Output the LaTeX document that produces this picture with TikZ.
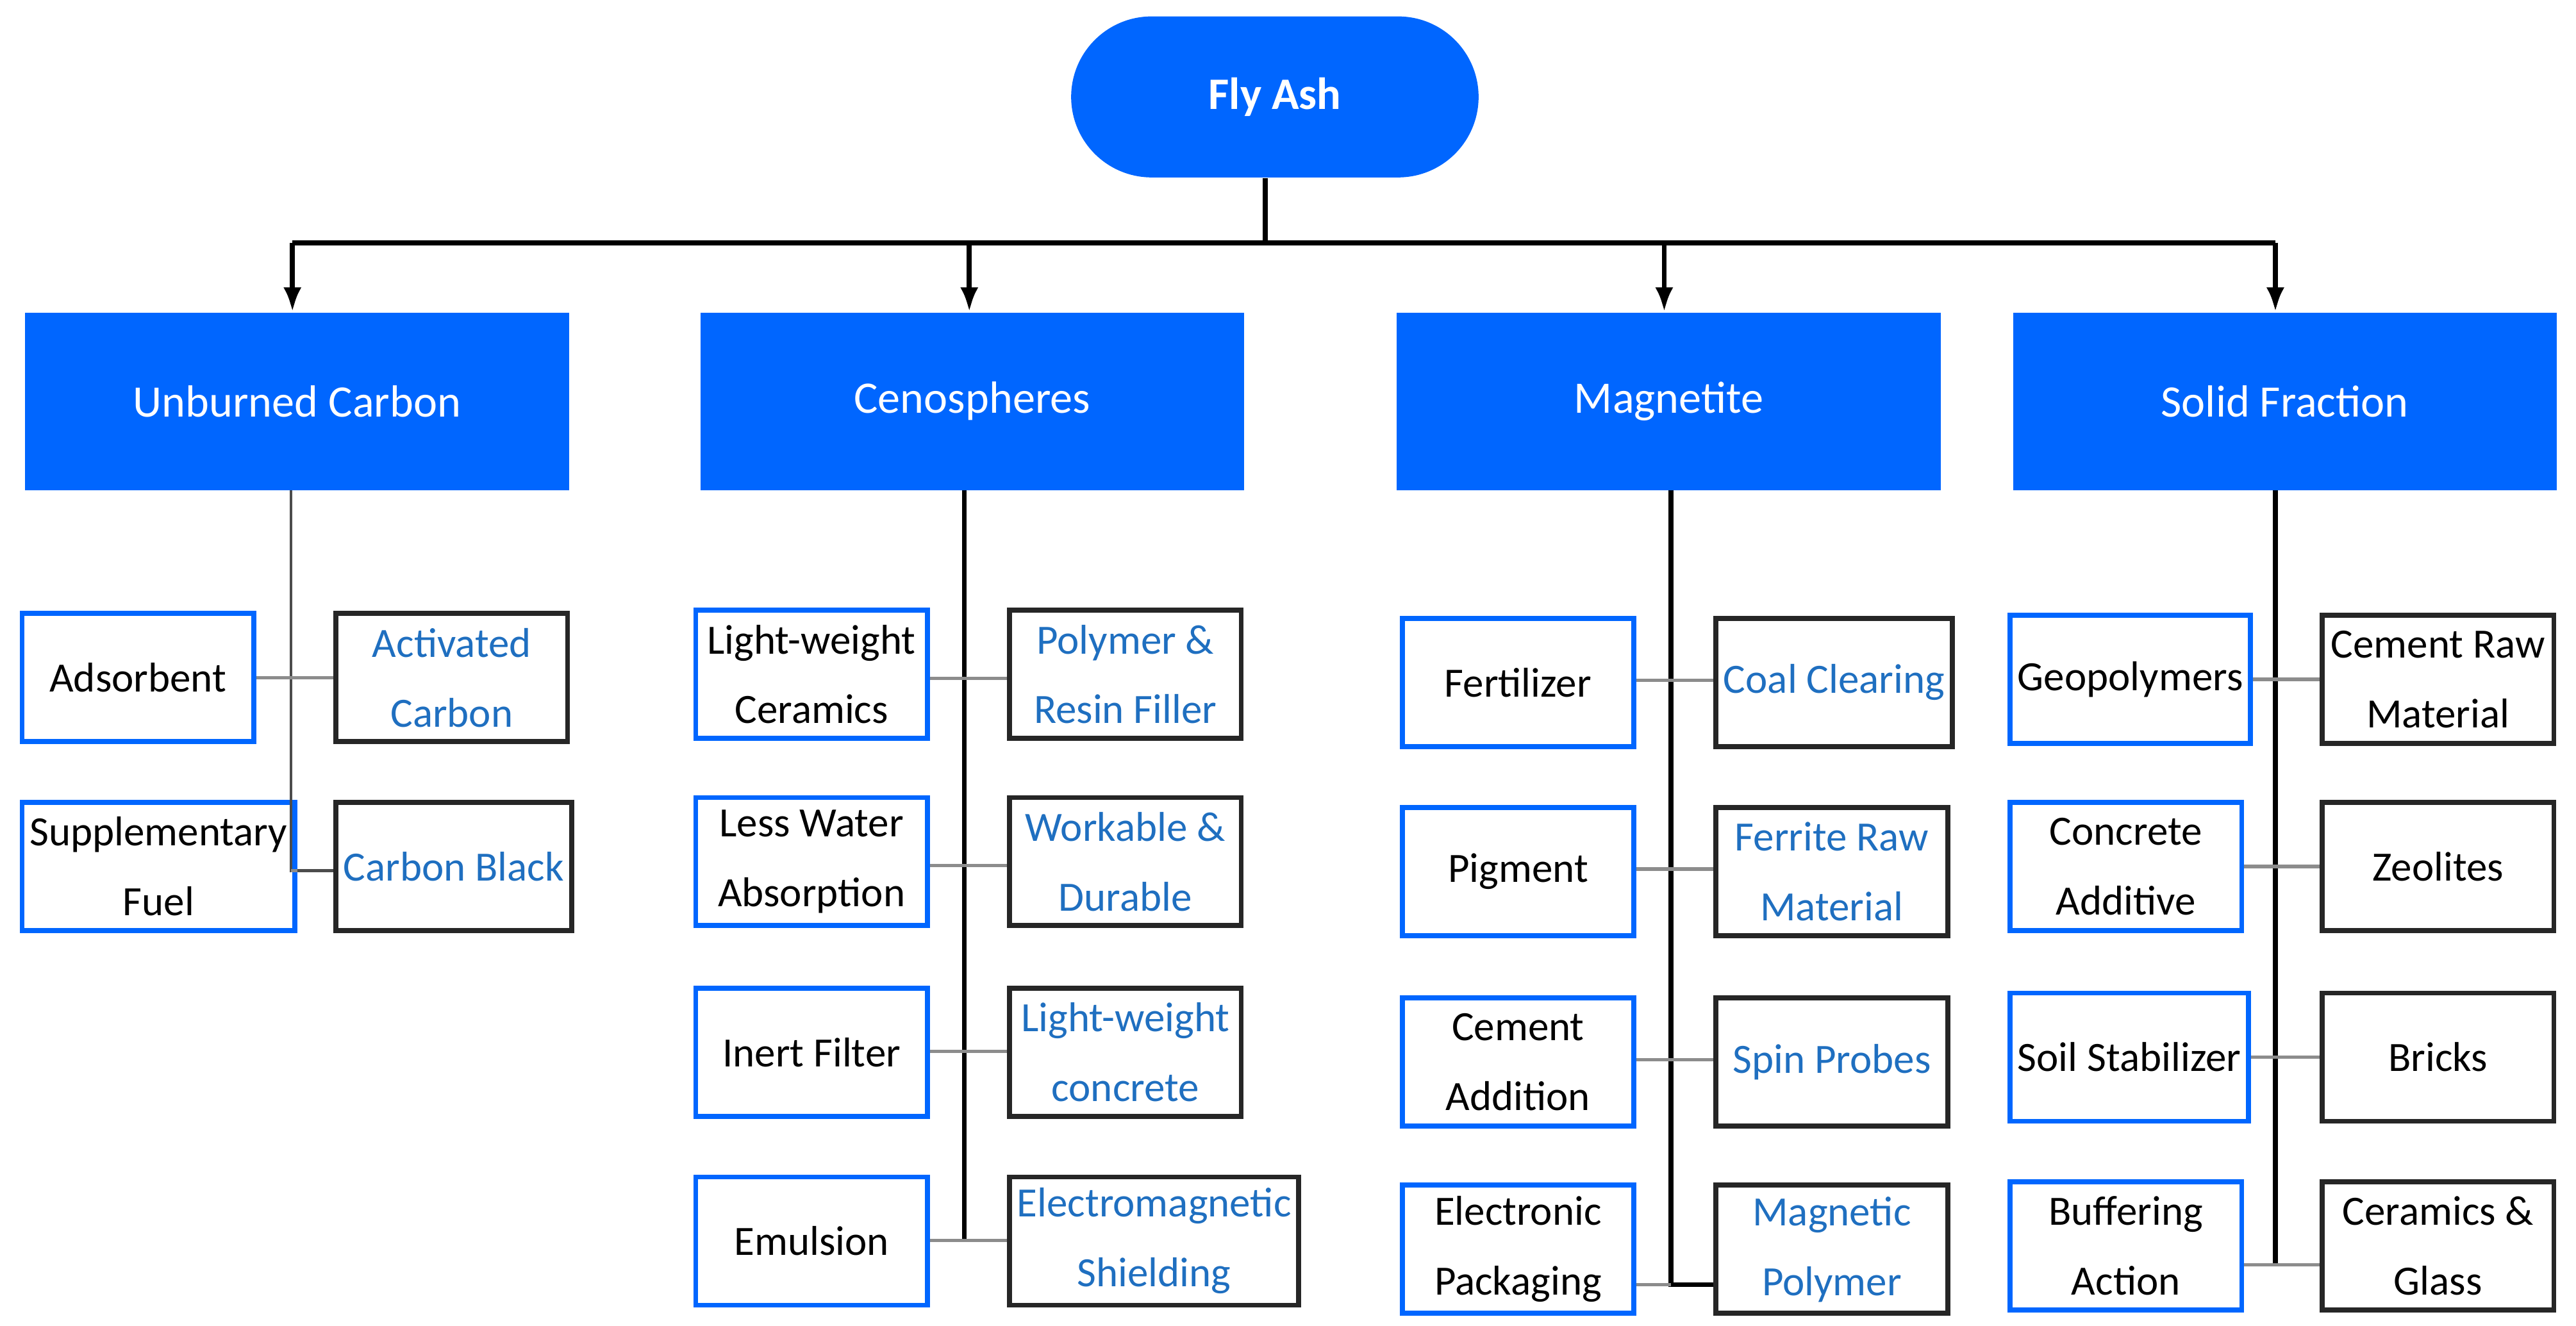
\documentclass[tikz,border=0pt]{standalone}
\usepackage{fontspec}
\setmainfont{Carlito}
\usetikzlibrary{arrows.meta}
\definecolor{hb}{HTML}{0066FF}
\definecolor{tb}{HTML}{1F6FC0}
\begin{document}
\begin{tikzpicture}[x=0.02563cm,y=-0.02563cm,
 hdr/.style={fill=hb,draw=none,text=white,minimum width=331*0.02563cm,minimum height=108*0.02563cm,font=\fontsize{20}{24}\selectfont,anchor=north west},
 lb/.style={draw=hb,line width=2.2pt,fill=white,minimum width=141*0.02563cm,minimum height=78*0.02563cm,align=center,font=\fontsize{18.5}{31}\selectfont,anchor=north west},
 rb/.style={lb,draw=black!85,text=tb},
 rbk/.style={rb,text=black},
 main/.style={line width=2.2pt},
 thin/.style={line width=1.2pt,black!70},
 link/.style={line width=1.5pt,black!45}]
\useasboundingbox (0,0) rectangle (1568,807);
\node[fill=hb,rounded corners=49*0.02563cm,minimum width=248*0.02563cm,minimum height=98*0.02563cm,text=white,font=\bfseries\fontsize{20}{24}\selectfont] (fa) at (776,59) {Fly Ash};
\node[hdr] (h1) at (15,190) {Unburned Carbon};
\node[hdr] (h2) at (426,190) {Cenospheres};
\node[hdr] (h3) at (850,190) {Magnetite};
\node[hdr] (h4) at (1225,190) {Solid Fraction};
\coordinate (j) at (770,148);
\draw[main] (fa.south -| j) -- (j);
\draw[main] (178,148) -- (1385,148);
\foreach \h/\x in {h1/178,h2/590,h3/1013,h4/1385}
  \draw[main,-{Latex[length=11pt,width=8pt]}] (\x,148) -- (\h.north -| \x,190);
% Unburned carbon
\node[lb] (a1) at (12,372) {Adsorbent};
\node[rb] (b1) at (203,372) {Activated\\Carbon};
\node[lb] (a2) at (12,487) {Supplementary\\Fuel};
\node[rb] (b2) at (203,487) {Carbon Black};
\draw[thin] (h1.south -| 177,0) -- (177,530) -- (b2.west |- 0,530);
\draw[link] (a1.east) -- (b1.west |- a1.east);
\draw[link] (a2.east |- 0,530) -- (177,530);
% Cenospheres
\node[lb] (c1) at (422,370) {Light-weight\\Ceramics};
\node[rb] (d1) at (613,370) {Polymer \&\\Resin Filler};
\node[lb] (c2) at (422,484) {Less Water\\Absorption};
\node[rb] (d2) at (613,484) {Workable \&\\Durable};
\node[lb] (c3) at (422,600) {Inert Filter};
\node[rb] (d3) at (613,600) {Light-weight\\concrete};
\node[lb] (c4) at (422,715) {Emulsion};
\node[rb] (d4) at (613,715) {Electromagnetic\\Shielding};
\draw[main] (h2.south -| 587,0) -- (587,755);
\foreach \i/\y in {1/413,2/527,3/640,4/755} \draw[link] (c\i.east |- 0,\y) -- (d\i.west |- 0,\y);
% Magnetite
\node[lb] (e1) at (852,375) {Fertilizer};
\node[rb] (f1) at (1043,375) {Coal Clearing};
\node[lb] (e2) at (852,490) {Pigment};
\node[rb] (f2) at (1043,490) {Ferrite Raw\\Material};
\node[lb] (e3) at (852,606) {Cement\\Addition};
\node[rb] (f3) at (1043,606) {Spin Probes};
\node[lb] (e4) at (852,720) {Electronic\\Packaging};
\node[rb] (f4) at (1043,720) {Magnetic\\Polymer};
\draw[main] (h3.south -| 1017,0) -- (1017,782) -- (f4.west |- 0,782);
\foreach \i/\y in {1/414,2/529,3/645} \draw[link] (e\i.east |- 0,\y) -- (f\i.west |- 0,\y);
\draw[link] (e4.east |- 0,782) -- (1017,782);
% Solid fraction
\node[lb] (g1) at (1222,373) {Geopolymers};
\node[rbk] (k1) at (1412,373) {Cement Raw\\Material};
\node[lb] (g2) at (1222,487) {Concrete\\Additive};
\node[rbk] (k2) at (1412,487) {Zeolites};
\node[lb] (g3) at (1222,603) {Soil Stabilizer};
\node[rbk] (k3) at (1412,603) {Bricks};
\node[lb] (g4) at (1222,718) {Buffering\\Action};
\node[rbk] (k4) at (1412,718) {Ceramics \&\\Glass};
\draw[main] (h4.south -| 1385,0) -- (1385,770);
\foreach \i in {1,2,3} \draw[link] (g\i.east) -- (k\i.west);
\draw[link] (g4.east |- 0,770) -- (k4.west |- 0,770);
\end{tikzpicture}
\end{document}
